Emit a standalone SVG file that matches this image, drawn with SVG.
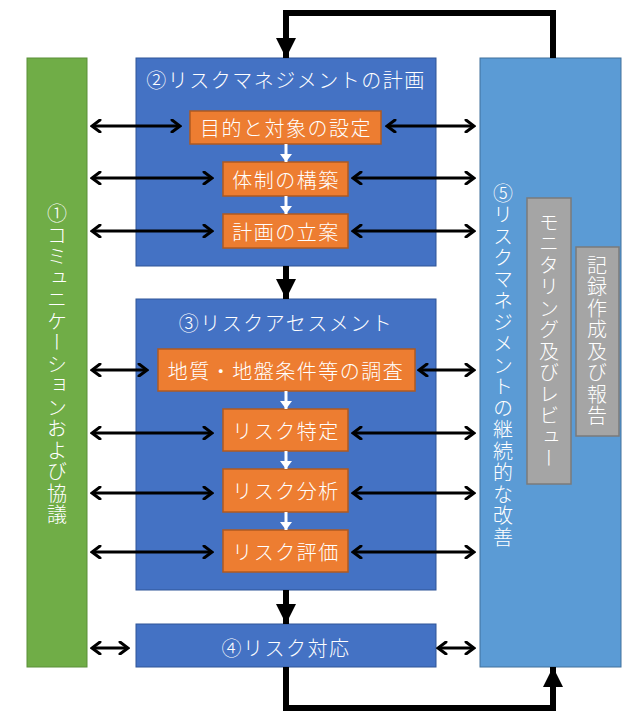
<svg xmlns="http://www.w3.org/2000/svg" width="622" height="712" viewBox="0 0 622 712">
<style>
.t{font-family:"Noto Sans CJK JP","Noto Sans CJK SC",sans-serif;font-size:20px;font-weight:300;fill:#fff;text-anchor:middle;dominant-baseline:central;letter-spacing:1.5px}
.v{writing-mode:vertical-rl;dominant-baseline:central}
.o{fill:#ED7D31;stroke:#AE5A21;stroke-width:1.5}
.g{fill:#A5A5A5;stroke:#7B7B7B;stroke-width:1.5}
.da{stroke:#000;stroke-width:3;fill:none;marker-start:url(#chev);marker-end:url(#chev)}
.da2{stroke:#000;stroke-width:3;fill:none;marker-start:url(#chev2);marker-end:url(#chev2)}
.thick{stroke:#000;stroke-width:6;fill:none;marker-end:url(#tri)}
.wa{stroke:#fff;stroke-width:3;fill:none;marker-end:url(#wtri)}
</style>
<defs>
<marker id="chev" markerUnits="userSpaceOnUse" viewBox="-1 -1 12 14" refX="9" refY="6" markerWidth="12" markerHeight="14" orient="auto-start-reverse">
<path d="M1,0 L9,6 L1,12" fill="none" stroke="#000" stroke-width="3" stroke-linejoin="miter" stroke-linecap="round"/>
</marker>
<marker id="chev2" markerUnits="userSpaceOnUse" viewBox="-1 -1 12 14" refX="9" refY="6" markerWidth="12" markerHeight="14" orient="auto-start-reverse">
<path d="M1,0 L9,6 L1,12" fill="none" stroke="#000" stroke-width="3" stroke-linejoin="miter" stroke-linecap="round"/>
</marker>
<marker id="tri" markerUnits="userSpaceOnUse" viewBox="0 0 20 20" refX="20" refY="10" markerWidth="20" markerHeight="20" orient="auto">
<path d="M0,0 L20,10 L0,20 Z" fill="#000"/>
</marker>
<marker id="wtri" markerUnits="userSpaceOnUse" viewBox="0 0 8 12" refX="8" refY="6" markerWidth="8" markerHeight="12" orient="auto">
<path d="M0,0 L8,6 L0,12 Z" fill="#fff"/>
</marker>
</defs>

<g id="node1">
<rect x="27" y="58" width="60" height="609" fill="#70AD47" stroke="#5B8F39" stroke-width="1"/>
<text class="t v" x="57" y="365">①コミュニケーションおよび協議</text>
</g>

<g id="node2">
<rect x="136" y="58" width="300" height="208" fill="#4472C4" stroke="#2F5597" stroke-width="1"/>
<text class="t" x="286" y="79">②リスクマネジメントの計画</text>
</g>
<g id="node2a"><rect class="o" x="190" y="111" width="191" height="33"/><text class="t" x="286" y="127">目的と対象の設定</text></g>
<g id="node2b"><rect class="o" x="223" y="162" width="125" height="34"/><text class="t" x="286" y="179">体制の構築</text></g>
<g id="node2c"><rect class="o" x="223" y="214" width="125" height="34"/><text class="t" x="286" y="231">計画の立案</text></g>

<g id="node3">
<rect x="136" y="299" width="300" height="291" fill="#4472C4" stroke="#2F5597" stroke-width="1"/>
<text class="t" x="286" y="322">③リスクアセスメント</text>
</g>
<g id="node3a"><rect class="o" x="158" y="349" width="257" height="42"/><text class="t" x="286" y="370">地質・地盤条件等の調査</text></g>
<g id="node3b"><rect class="o" x="223" y="409" width="125" height="42"/><text class="t" x="286" y="430">リスク特定</text></g>
<g id="node3c"><rect class="o" x="223" y="469" width="125" height="43"/><text class="t" x="286" y="490">リスク分析</text></g>
<g id="node3d"><rect class="o" x="223" y="530" width="125" height="42"/><text class="t" x="286" y="551">リスク評価</text></g>

<g id="node4">
<rect x="136" y="624" width="300" height="43" fill="#4472C4" stroke="#2F5597" stroke-width="1"/>
<text class="t" x="286" y="647">④リスク対応</text>
</g>

<g id="node5">
<rect x="480" y="58" width="141" height="609" fill="#5B9BD5" stroke="#41719C" stroke-width="1"/>
<text class="t v" x="503" y="366">⑤リスクマネジメントの継続的な改善</text>
</g>
<g id="node5a"><rect class="g" x="527" y="198" width="44" height="286"/><text class="t v" x="549" y="341">モニタリング及びレビュー</text></g>
<g id="node5b"><rect class="g" x="576" y="247" width="43" height="189"/><text class="t v" x="597" y="341">記録作成及び報告</text></g>

<g id="connectors">
<path class="thick" d="M553,58 V13 H286 V58"/>
<path class="thick" d="M286,266 V299"/>
<path class="thick" d="M286,590 V624"/>
<path class="thick" d="M286,667 V708 H553 V667"/>

<path class="wa" d="M286,144 V162"/>
<path class="wa" d="M286,196 V214"/>
<path class="wa" d="M286,391 V409"/>
<path class="wa" d="M286,451 V469"/>
<path class="wa" d="M286,512 V530"/>

<path class="da" d="M92,126 H180"/>
<path class="da" d="M387,126 H474"/>
<path class="da" d="M92,178 H212"/>
<path class="da" d="M353,178 H474"/>
<path class="da" d="M92,231 H212"/>
<path class="da" d="M353,231 H474"/>
<path class="da" d="M92,370 H147"/>
<path class="da" d="M419,370 H474"/>
<path class="da" d="M92,433 H212"/>
<path class="da" d="M353,433 H474"/>
<path class="da" d="M92,493 H212"/>
<path class="da" d="M353,493 H474"/>
<path class="da" d="M92,552 H212"/>
<path class="da" d="M353,552 H474"/>
<path class="da2" d="M92,648 H128"/>
<path class="da2" d="M438,648 H474"/>
</g>
</svg>
